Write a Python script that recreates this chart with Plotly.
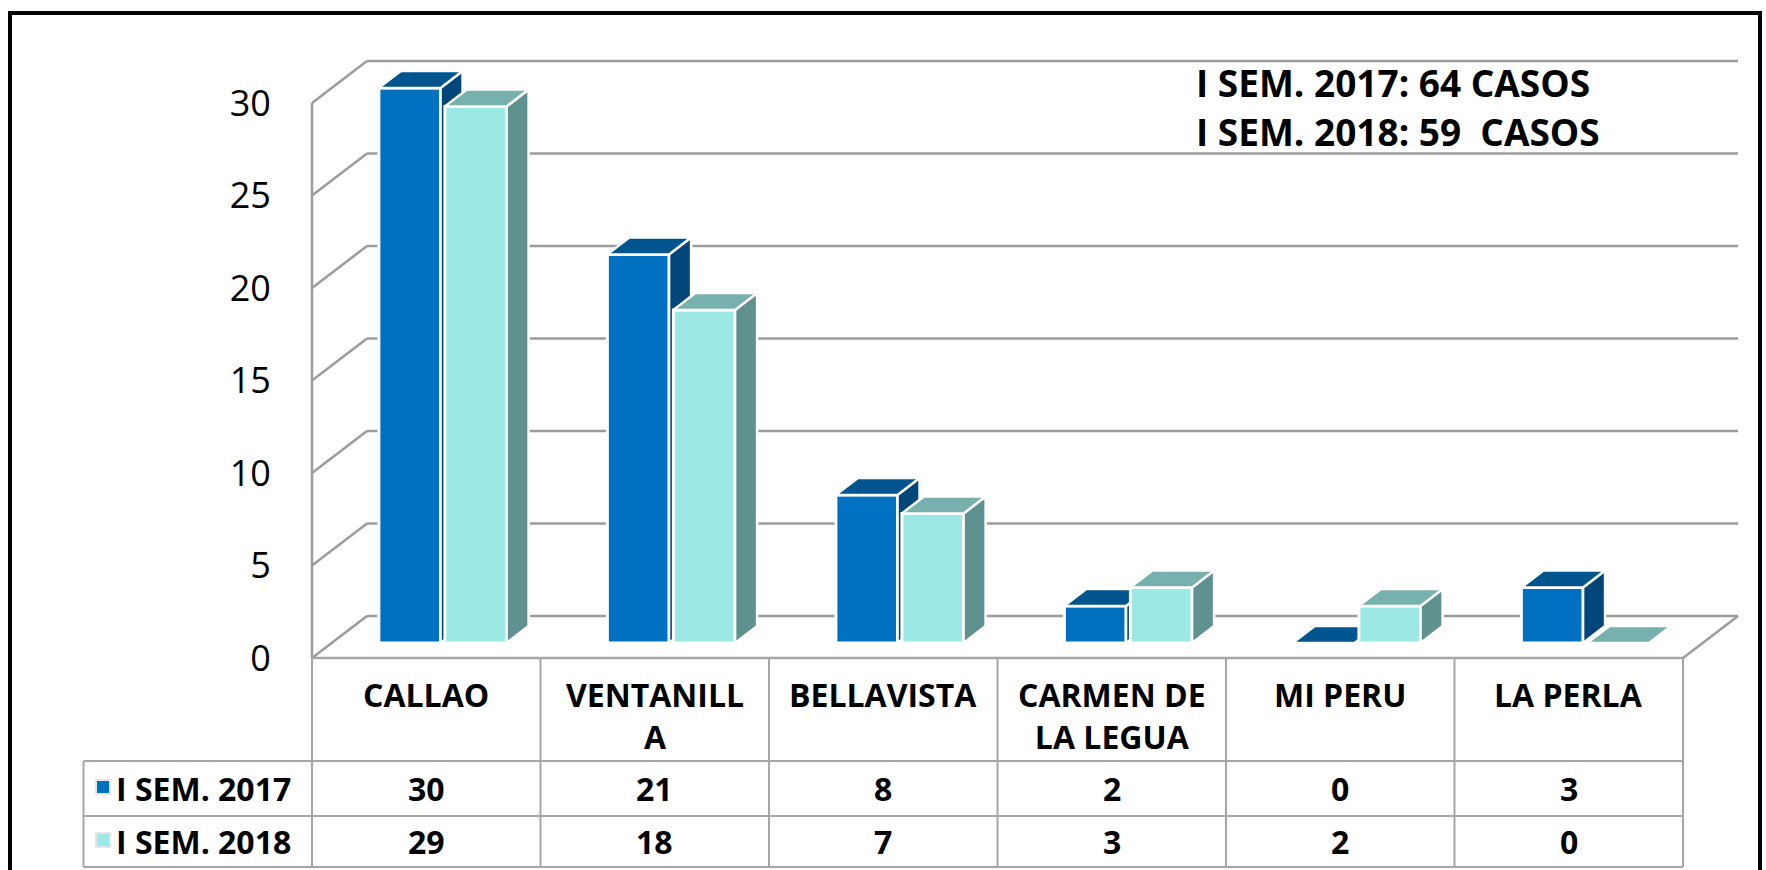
import plotly.graph_objects as go

# ---------------- data ----------------
categories = ["CALLAO", "VENTANILL<br>A", "BELLAVISTA", "CARMEN DE<br>LA LEGUA", "MI PERU", "LA PERLA"]
series_names = ["I SEM. 2017", "I SEM. 2018"]
values_2017 = [30, 21, 8, 2, 0, 3]
values_2018 = [29, 18, 7, 3, 2, 0]
y_ticks = [0, 5, 10, 15, 20, 25, 30]
totals_text = ["I SEM. 2017: 64 CASOS", "I SEM. 2018: 59\u00a0 CASOS"]

# ---------------- styles / layout constants ----------------
FRONT_COLORS = ["#0070C0", "#9BE8E4"]
TOP_COLORS = ["#00558F", "#76B1AD"]
SIDE_COLORS = ["#00467A", "#5F928F"]
GRID_COLOR = "#9C9C9C"
TABLE_COLOR = "#A6A6A6"
FONT = "Open Sans"

W, H = 1766, 870
PX_L, PX_R = 312, 1683          # front edge of floor (pixels)
N = len(categories)
UX = (PX_R - PX_L) / N          # pixels per category unit
PY0 = 658                        # front floor level (pixels)
UY = 18.5                        # pixels per value unit
x_range = [-0.5 - PX_L / UX, N - 0.5 + (W - PX_R) / UX]
y_range = [-(H - PY0) / UY, PY0 / UY]
DX = 55 / UX                     # full depth offset in data units
DY = 42 / UY
F0, F1 = 0.36, 0.76              # bar depth (fraction of floor depth)
BW = 0.27                        # bar width
OFFS = [-0.294, -0.005]          # bar offsets from category centre


def py(p):
    return 1 - p / H


def px(p):
    return p / W


fig = go.Figure()

bx, by = F0 * DX, F0 * DY
ddx, ddy = (F1 - F0) * DX, (F1 - F0) * DY

series = [values_2017, values_2018]
for s, vals in enumerate(series):
    xa = "x" if s == 0 else "x2"
    ya = "y" if s == 0 else "y2"
    off = OFFS[s]
    fig.add_trace(go.Bar(
        x=[i + bx for i in range(N)], y=vals, base=by, width=BW, offset=off,
        marker=dict(color=FRONT_COLORS[s], line=dict(color="white", width=3)),
        name=series_names[s], showlegend=False, hoverinfo="skip",
        xaxis=xa, yaxis=ya,
    ))
    tx, ty, sx, sy = [], [], [], []
    for i, v in enumerate(vals):
        xl = i + off + bx
        xr = xl + BW
        yt = by + v
        tx += [xl, xr, xr + ddx, xl + ddx, xl, None]
        ty += [yt, yt, yt + ddy, yt + ddy, yt, None]
        sx += [xr, xr + ddx, xr + ddx, xr, xr, None]
        sy += [by, by + ddy, yt + ddy, yt, by, None]
    fig.add_trace(go.Scatter(x=sx, y=sy, mode="lines", fill="toself",
                             fillcolor=SIDE_COLORS[s], line=dict(color="white", width=2.5),
                             showlegend=False, hoverinfo="skip", xaxis=xa, yaxis=ya))
    fig.add_trace(go.Scatter(x=tx, y=ty, mode="lines", fill="toself",
                             fillcolor=TOP_COLORS[s], line=dict(color="white", width=2.5),
                             showlegend=False, hoverinfo="skip", xaxis=xa, yaxis=ya))

shapes = []
# back wall / side wall gridlines
for v in y_ticks:
    shapes.append(dict(type="line", xref="x", yref="y", layer="below",
                       x0=-0.5, y0=v, x1=-0.5 + DX, y1=v + DY,
                       line=dict(color=GRID_COLOR, width=2.5)))
    shapes.append(dict(type="line", xref="x", yref="y", layer="below",
                       x0=-0.5 + DX, y0=v + DY, x1=N - 0.5 + DX, y1=v + DY,
                       line=dict(color=GRID_COLOR, width=2.5)))
shapes.append(dict(type="line", xref="x", yref="y", layer="below",
                   x0=-0.5, y0=0, x1=-0.5, y1=y_ticks[-1],
                   line=dict(color=GRID_COLOR, width=2.5)))
shapes.append(dict(type="line", xref="x", yref="y", layer="below",
                   x0=N - 0.5, y0=0, x1=N - 0.5 + DX, y1=DY,
                   line=dict(color=GRID_COLOR, width=2.5)))

# data table
ROW_TOP = PY0
ROW1, ROW2, ROW_BOT = 761, 816, 867
shapes.append(dict(type="line", xref="x", yref="paper", x0=-0.5, x1=N - 0.5,
                   y0=py(ROW_TOP), y1=py(ROW_TOP), line=dict(color=TABLE_COLOR, width=2.5)))
for yy in (ROW1, ROW2, ROW_BOT):
    shapes.append(dict(type="line", xref="x", yref="paper", x0=-1.5, x1=N - 0.5,
                       y0=py(yy), y1=py(yy), line=dict(color=TABLE_COLOR, width=2)))
for k in range(N + 1):
    shapes.append(dict(type="line", xref="x", yref="paper", x0=k - 0.5, x1=k - 0.5,
                       y0=py(ROW_TOP), y1=py(ROW_BOT), line=dict(color=TABLE_COLOR, width=2)))
shapes.append(dict(type="line", xref="x", yref="paper", x0=-1.5, x1=-1.5,
                   y0=py(ROW1), y1=py(ROW_BOT), line=dict(color=TABLE_COLOR, width=2)))

# legend swatches
row_centers = [788, 841]
for s in range(2):
    c = row_centers[s] - 1
    shapes.append(dict(type="rect", xref="paper", yref="paper",
                       x0=px(96), x1=px(110), y0=py(c - 7), y1=py(c + 7),
                       fillcolor=FRONT_COLORS[s], line=dict(color="#E6E6E6", width=2)))

# outer black frame
shapes.append(dict(type="rect", xref="paper", yref="paper",
                   x0=px(10), x1=px(1760), y0=py(13), y1=py(900),
                   line=dict(color="black", width=4), fillcolor="rgba(0,0,0,0)"))

annotations = []
for i, cat in enumerate(categories):
    annotations.append(dict(x=i, y=py(671), xref="x", yref="paper", text="<b>%s</b>" % cat,
                            showarrow=False, xanchor="center", yanchor="top",
                            font=dict(family=FONT, size=32, color="black")))
for s, vals in enumerate(series):
    for i, v in enumerate(vals):
        annotations.append(dict(x=i, y=py(row_centers[s]), xref="x", yref="paper",
                                text="<b>%d</b>" % v, showarrow=False,
                                xanchor="center", yanchor="middle",
                                font=dict(family=FONT, size=32, color="black")))
    annotations.append(dict(x=px(114), y=py(row_centers[s]), xref="paper", yref="paper",
                            text="<b>%s</b>" % series_names[s], showarrow=False,
                            xanchor="left", yanchor="middle",
                            font=dict(family=FONT, size=32, color="black")))
for j, t in enumerate(totals_text):
    annotations.append(dict(x=px(1194), y=py([82, 131][j]), xref="paper", yref="paper",
                            text="<b>%s</b>" % t, showarrow=False,
                            xanchor="left", yanchor="middle",
                            font=dict(family=FONT, size=37, color="black")))

fig.update_layout(
    width=W, height=H,
    margin=dict(l=0, r=0, t=0, b=0, pad=0),
    paper_bgcolor="white", plot_bgcolor="white",
    barmode="overlay",
    showlegend=False,
    xaxis=dict(range=x_range, visible=False, fixedrange=True),
    yaxis=dict(range=y_range, anchor="free", position=PX_L / W, side="left",
               tickmode="array", tickvals=y_ticks, ticks="outside", ticklen=34,
               tickcolor="rgba(0,0,0,0)", showgrid=False, zeroline=False, showline=False,
               tickfont=dict(family=FONT, size=36, color="black"), fixedrange=True),
    xaxis2=dict(range=x_range, overlaying="x", anchor="y2", visible=False, fixedrange=True),
    yaxis2=dict(range=y_range, overlaying="y", anchor="x2", visible=False, fixedrange=True),
    shapes=shapes,
    annotations=annotations,
)

fig.write_html("out.html", config={"displayModeBar": False},
               post_script="document.body.style.margin='0';")
